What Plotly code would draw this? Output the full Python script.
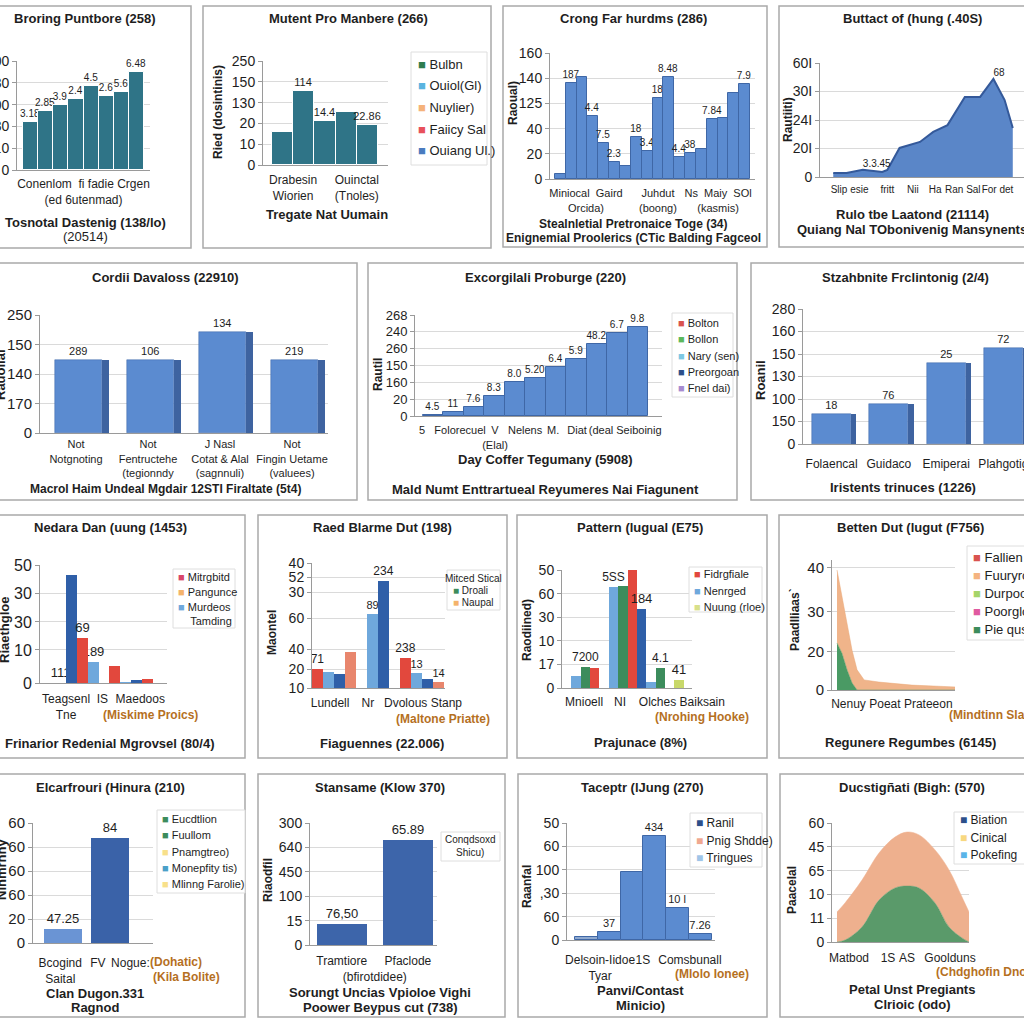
import plotly.graph_objects as go

# ======================= DATA =======================
# Panel 1
p1_values = [2.2, 2.7, 3.0, 3.26, 3.85, 3.4, 3.58, 4.5]
p1_labels = ["3.18", "2.85", "3.9", "2.4", "4.5", "2.6", "5.6", "6.48"]
p1_yticks = ["0", "110", "230", "300", "430", "500"]
p1_categories = ["Conenlom&nbsp;&nbsp;fi fadie Crgen<br>(ed 6utenmad)"]

# Panel 2
p2_values = [1.6, 3.56, 2.12, 2.55, 1.92]
p2_labels = ["", "114", "14.4", "", "22.86"]
p2_yticks = ["0", "10", "20", "130", "150", "250"]
p2_categories = ["Drabesin<br>Wiorien", "Ouinctal<br>(Tnoles)"]
p2_legend = ["Bulbn", "Ouiol(Gl)", "Nuylier)", "Faiicy Sal", "Ouiang Ul.)"]

# Panel 3
p3_values = [0.2, 3.81, 4.05, 2.5, 1.43, 0.67, 0.52, 1.67, 1.11, 3.21, 4.05,
             0.87, 1.03, 1.19, 2.38, 2.42, 3.41, 3.77]
p3_labels = ["", "187", "", "4.4", "7.5", "2.3", "", "18", "3.4", "18", "8.48",
             "4.4", "38", "", "7.84", "", "", "7.9"]
p3_yticks = ["0", "20", "40", "125", "140", "160"]
p3_categories = ["Miniocal&nbsp;&nbsp;Gaird<br>Orcida)", "Juhdut<br>(boong)",
                 "Ns&nbsp;&nbsp;Maiy&nbsp;&nbsp;SOl<br>(kasmis)"]

# Panel 4
p4_steps = [1.3, 2.6, 4.2, 6.1, 6.6, 7.8, 9.8, 11.1, 12.5, 14.2, 15.7, 17.0, 18.1, 18.9]
p4_values = [0.14, 0.14, 0.25, 0.18, 0.25, 1.02, 1.23, 1.58, 1.82, 2.81, 2.81, 3.44, 2.7, 1.72]
p4_labels = ["", "", "3.3.45", "", "", "", "", "", "", "", "", "68", "", ""]
p4_yticks = ["0", "20I", "24I", "30I", "60I"]
p4_categories = ["Slip esie", "fritt", "Nii", "Ha", "Ran Sal", "For det"]

# Panel 5
p5_values = [2.47, 2.47, 3.42, 2.47]
p5_labels = ["289", "106", "134", "219"]
p5_yticks = ["0", "170", "140", "150", "250"]
p5_categories = ["Not<br>Notgnoting", "Not<br>Fentructehe<br>(tegionndy",
                 "J Nasl<br>Cotat & Alal<br>(sagnnuli)", "Not<br>Fingin Uetame<br>(valuees)"]

# Panel 6
p6_values = [0.06, 0.26, 0.55, 1.19, 2.04, 2.24, 2.93, 3.39, 4.28, 4.95, 5.31]
p6_labels = ["4.5", "11", "7.6", "8.3", "8.0", "5.20", "6.4", "5.9", "48.2", "6.7", "9.8"]
p6_yticks = ["0", "20", "160", "150", "260", "240", "268"]
p6_categories = ["5", "Folorecuel", "V<br>(Elal)", "Nelens", "M.", "Diat", "(deal Seiboinig"]
p6_legend = ["Bolton", "Bollon", "Nary (sen)", "Preorgoan", "Fnel dai)"]

# Panel 7
p7_values = [1.33, 1.78, 3.6, 4.27]
p7_labels = ["18", "76", "25", "72"]
p7_yticks = ["0", "150", "100", "130", "150", "160", "280"]
p7_categories = ["Folaencal", "Guidaco", "Emiperai", "Plahgotig"]

# Panel 8
p8_lightblue = [0.0, 0.71, 0.03]
p8_darkblue = [3.66, 0.0, 0.1]
p8_red = [1.53, 0.58, 0.14]
p8_lightblue_labels = ["111", "189", ""]
p8_red_labels = ["69", "", ""]
p8_yticks = ["0", "10", "30", "30", "50"]
p8_categories = ["Teagsenl<br>Tne", "IS", "Maedoos"]
p8_legend = ["Mitrgbitd", "Pangunce", "Murdeos<br>&nbsp;&nbsp;&nbsp;&nbsp;Tamding"]

# Panel 9
p9_red = [1.52, 0.0, 2.4]
p9_lightblue = [1.28, 5.9, 1.2]
p9_darkblue = [1.12, 8.6, 0.72]
p9_red2 = [2.88, 0.0, 0.48]
p9_red_labels = ["71", "", "238"]
p9_lightblue_labels = ["", "89", "13"]
p9_darkblue_labels = ["", "234", ""]
p9_red2_labels = ["", "", "14"]
p9_yticks = ["10", "20", "40", "60", "30", "52", "40"]
p9_categories = ["Lundell", "Nr", "Dvolous Stanp"]
p9_legend = ["Droali", "Naupal"]

# Panel 10
p10_lightblue = [0.51, 4.3, 0.25]
p10_green = [0.89, 4.33, 0.85]
p10_red = [0.85, 5.0, 0.0]
p10_fourth = [0.0, 3.35, 0.34]
p10_lightblue_labels = ["", "5SS", ""]
p10_green_labels = ["7200", "", "4.1"]
p10_fourth_labels = ["", "184", "41"]
p10_yticks = ["0", "17", "10", "30", "60", "50"]
p10_categories = ["Mnioell", "NI", "Olches Baiksain"]
p10_legend = ["Fidrgfiale", "Nenrged", "Nuung (rloe)"]

# Panel 11
p11_steps = [0, 1.7, 3.4, 5.1, 6.8, 9.2, 14.2, 25.4, 40]
p11_green = [15.4, 12.0, 6.6, 2.3, 0.0, 0.0, 0.0, 0.0, 0.0]
p11_orange = [23.9, 18.5, 16.4, 10.7, 6.6, 3.3, 2.6, 1.6, 1.0]
p11_yticks = ["0", "20", "30", "40"]
p11_categories = ["Nenuy Poeat Prateeon"]
p11_legend = ["Fallien", "Fuuryroo", "Durpoo", "Poorglo", "Pie qusi"]

# Panel 12
p12_values = [0.58, 4.37]
p12_labels = ["47.25", "84"]
p12_yticks = ["0", "20", "60", "60", "60", "60"]
p12_categories = ["Bcogind<br>Saital", "FV", "Nogue:"]
p12_legend = ["Eucdtlion", "Fuullom", "Pnamgtreo)", "Monepfity tis)", "Mlinng Farolie)"]

# Panel 13
p13_values = [0.86, 4.3]
p13_labels = ["76,50", "65.89"]
p13_yticks = ["0", "15", "100", "450", "640", "300"]
p13_categories = ["Tramtiore", "<br>(bfirotdidee)", "Pfaclode"]

# Panel 14
p14_values = [0.13, 0.34, 2.9, 4.44, 1.37, 0.26]
p14_labels = ["", "37", "", "434", "10 l", "7.26"]
p14_yticks = ["0", "60", ",30", "100", "60", "50"]
p14_categories = ["Delsoin-Iidoe<br>Tyar", "1S", "Comsbunall"]
p14_legend = ["Ranil", "Pnig Shdde)", "Tringues"]

# Panel 15
p15_steps = [0, 0.8, 2.5, 4.2, 5.8, 7.0, 8.2, 9.8, 11.2, 12.5, 13.2]
p15_green = [0.0, 0.08, 0.63, 1.76, 2.27, 2.35, 2.27, 1.64, 0.63, 0.17, 0.0]
p15_orange = [1.26, 1.56, 1.97, 1.98, 2.14, 2.27, 2.23, 2.23, 2.4, 1.72, 1.26]
p15_yticks = ["0", "11", "10", "65", "45", "60"]
p15_categories = ["Matbod", "1S", "AS", "Goolduns"]
p15_legend = ["Biation", "Cinical", "Pokefing"]

# ======================= STYLE / HELPERS =======================
FONT = "Liberation Sans, Arial, Helvetica, sans-serif"
INK = "#1e1e1e"
GRID = "#dadada"
AXIS = "#9a9a9a"
BORDER = "#a9a9a9"
ORANGE_TXT = "#b5701f"
TEAL = "#2f7487"
BLUE = "#5b8bd0"
BLUE_EDGE = "#3f67a6"
BLUE_SIDE = "#3e63a0"
DARKBLUE = "#2f5fa8"
LIGHTBLUE = "#6fa8dc"
RED = "#e2483d"
GREEN = "#3c8c5c"

W = H = 1024


def fx(p):
    return p / W


def fy(p):
    return 1 - p / H


fig = go.Figure()
layout = {}
annotations = []
shapes = []


def axes(n, left, right, top, bottom, xr, yr, ytv, ytt, xtv, xtt, ysize=14, xsize=12, stand=4):
    s = "" if n == 1 else str(n)
    layout["xaxis" + s] = dict(
        domain=[max(0.0, fx(left)), min(1.0, fx(right))], anchor="y" + s, range=xr,
        tickmode="array", tickvals=xtv, ticktext=xtt, tickangle=0, automargin=False,
        showgrid=False, zeroline=False, showline=True, linecolor=AXIS, linewidth=1,
        ticks="", ticklabelstandoff=stand, ticklabeloverflow="allow",
        tickfont=dict(family=FONT, size=xsize, color=INK), fixedrange=True)
    layout["yaxis" + s] = dict(
        domain=[fy(bottom), fy(top)], anchor="x" + s, range=yr, automargin=False,
        tickmode="array", tickvals=ytv, ticktext=ytt, ticklabeloverflow="allow",
        showgrid=True, gridcolor=GRID, gridwidth=1, zeroline=False, showline=True,
        linecolor=AXIS, linewidth=1, ticks="outside", ticklen=4, tickcolor=AXIS,
        tickfont=dict(family=FONT, size=ysize, color=INK), fixedrange=True)
    return "x" + s, "y" + s


def note(x, y, s, size=12, bold=False, color=INK, angle=0, anchor="center", align="center"):
    annotations.append(dict(
        x=fx(x), y=fy(y), xref="paper", yref="paper", text=s, showarrow=False,
        textangle=angle, xanchor=anchor, yanchor="middle", align=align,
        font=dict(family=FONT, size=size, color=color, weight=700 if bold else 400)))


def frame(l, t, r, b):
    shapes.append(dict(type="rect", xref="paper", yref="paper", x0=fx(l), x1=fx(r),
                       y0=fy(b), y1=fy(t), line=dict(color=BORDER, width=1.5),
                       fillcolor="rgba(0,0,0,0)", layer="below"))


def legend_box(l, t, r, b, entries, colors, ys, size=12, pad=5):
    shapes.append(dict(type="rect", xref="paper", yref="paper", x0=fx(l), x1=fx(r),
                       y0=fy(b), y1=fy(t), line=dict(color="#dedede", width=1),
                       fillcolor="white", layer="above"))
    for e, c, y in zip(entries, colors, ys):
        note(l + pad, y, f'<span style="color:{c}">■</span> {e}', size=size,
             anchor="left", align="left")


def bars(xa, ya, values, color, labels=None, width=None, offset=None, textsize=10,
         edge=None, edgewidth=1):
    fig.add_trace(go.Bar(
        x=list(range(len(values))), y=values, xaxis=xa, yaxis=ya,
        marker=dict(color=color, line=dict(color=edge if edge else color,
                                           width=edgewidth if edge else 0)),
        text=labels, textposition="outside", constraintext="none", cliponaxis=False,
        textfont=dict(family=FONT, size=textsize, color=INK),
        width=width, offset=offset, showlegend=False, hoverinfo="skip"))


def steps(y0, dy, n):
    return [y0 + i * dy for i in range(n)]


# ======================= PANEL 1 =======================
frame(-5, 6, 191, 248)
note(85, 18, "Broring Puntbore (258)", 13, True)
xa, ya = axes(1, 17, 150, 61, 170, [-0.9, 7.9], [0, 5], list(range(6)), p1_yticks,
              [3.5], p1_categories, ysize=14, xsize=12, stand=3)
bars(xa, ya, p1_values, TEAL, p1_labels, textsize=10, edge="white", edgewidth=1)
note(85, 222, "Tosnotal Dastenig (138/lo)", 13, True)
note(85, 236, "(20514)", 13)

# ======================= PANEL 2 =======================
frame(203, 6, 491, 248)
note(348, 18, "Mutent Pro Manbere (266)", 13, True)
xa, ya = axes(2, 263, 388, 61, 165, [-0.92, 4.97], [0, 5], list(range(6)), p2_yticks,
              [0.5, 3.5], p2_categories, ysize=14, xsize=12, stand=4)
bars(xa, ya, p2_values, TEAL, p2_labels, textsize=11, edge="white", edgewidth=1)
note(218, 112, "Ried (dosintinis)", 12, True, angle=-90)
legend_box(411, 52, 487, 165, p2_legend, ["#2e7d4f", "#5ab4e0", "#f5b27a", "#e8505b", "#4a7bbf"],
           steps(64, 21.7, 5), size=13)
note(327, 214, "Tregate Nat Uumain", 13, True)

# ======================= PANEL 3 =======================
frame(503, 6, 767, 247)
note(633, 18, "Crong Far hurdms (286)", 13, True)
xa, ya = axes(3, 550, 755, 53, 179, [-0.96, 17.96], [0, 5], list(range(6)), p3_yticks,
              [2.36, 9.0, 14.55], p3_categories, ysize=14, xsize=11, stand=4)
bars(xa, ya, p3_values, BLUE, p3_labels, textsize=10, edge=BLUE_EDGE, edgewidth=1)
note(513, 103, "Raoual)", 12, True, angle=-90)
note(633, 224, "Stealnletial Pretronaice Toge (34)", 12, True)
note(633, 238, "Enignemial Proolerics (CTic Balding Fagceol", 12, True)

# ======================= PANEL 4 =======================
frame(779, 6, 1030, 247)
note(912, 18, "Buttact of (hung (.40S)", 13, True)
xa, ya = axes(4, 820, 1024, 63, 177, [0, 20], [0, 4], list(range(5)), p4_yticks,
              [2.9, 6.6, 9.1, 11.3, 14.0, 17.4], p4_categories, ysize=14, xsize=10, stand=3)
fig.add_trace(go.Scatter(
    x=p4_steps, y=p4_values, xaxis=xa, yaxis=ya, mode="lines+text", fill="tozeroy",
    fillcolor="#5a86c8", line=dict(color="#34599a", width=2),
    text=p4_labels, textposition="top right", cliponaxis=False,
    textfont=dict(family=FONT, size=10, color=INK), showlegend=False, hoverinfo="skip"))
note(788, 120, "Rautiiti)", 12, True, angle=-90)
note(912, 214, "Rulo tbe Laatond (21114)", 13, True)
note(912, 229, "Quiang Nal TObonivenig Mansynents", 13, True)

# ======================= PANEL 5 =======================
frame(-5, 263, 357, 500)
note(165, 277, "Cordii Davaloss (22910)", 13, True)
xa, ya = axes(5, 40, 328, 315, 433, [-0.5, 3.5], [0, 4], list(range(5)), p5_yticks,
              [0, 1, 2, 3], p5_categories, ysize=15, xsize=11, stand=1)
bars(xa, ya, p5_values, BLUE, p5_labels, width=0.65, offset=-0.29, textsize=11,
     edge=BLUE_EDGE, edgewidth=0.5)
bars(xa, ya, p5_values, BLUE_SIDE, None, width=0.1, offset=0.36)
note(0, 375, "Rauoiial", 13, True, angle=-90)
note(165, 489, "Macrol Haim Undeal Mgdair 12STI Firaltate (5t4)", 12, True)

# ======================= PANEL 6 =======================
frame(368, 263, 737, 500)
note(545, 277, "Excorgilali Proburge (220)", 13, True)
xa, ya = axes(6, 415, 662, 315, 416, [-0.89, 11.18], [0, 6], list(range(7)), p6_yticks,
              [-0.55, 1.31, 3.02, 4.49, 5.86, 7.03, 9.38], p6_categories, ysize=13, xsize=11, stand=4)
bars(xa, ya, p6_values, BLUE, p6_labels, textsize=10, edge=BLUE_EDGE, edgewidth=1)
note(378, 375, "Rautil", 12, True, angle=-90)
legend_box(672, 313, 733, 397, p6_legend, ["#d9534f", "#5cb85c", "#7ec8e3", "#2c4f8a", "#a78bd0"],
           steps(323, 16.3, 5), size=11, pad=4)
note(545, 459, "Day Coffer Tegumany (5908)", 13, True)
note(545, 489, "Mald Numt Enttrartueal Reyumeres Nai Fiagunent", 13, True)

# ======================= PANEL 7 =======================
frame(751, 263, 1030, 500)
note(905, 277, "Stzahbnite Frclintonig (2/4)", 13, True)
xa, ya = axes(7, 803, 1024, 309, 444, [-0.5, 3.36], [0, 6], list(range(7)), p7_yticks,
              [0, 1, 2, 3], p7_categories, ysize=14, xsize=12, stand=9)
bars(xa, ya, p7_values, BLUE, p7_labels, width=0.68, offset=-0.34, textsize=11,
     edge=BLUE_EDGE, edgewidth=0.5)
bars(xa, ya, p7_values, BLUE_SIDE, None, width=0.09, offset=0.34)
note(760, 380, "Roanil", 13, True, angle=-90)
note(903, 487, "Iristents trinuces (1226)", 13, True)

# ======================= PANEL 8 =======================
frame(-5, 515, 245, 758)
note(110, 527, "Nedara Dan (uung (1453)", 13, True)
xa, ya = axes(8, 40, 167, 565, 683, [-0.94, 2.91], [0, 4], [0, 1.12, 2.07, 3.05, 4], p8_yticks,
              [-0.15, 0.95, 2.1], p8_categories, ysize=16, xsize=12, stand=5)
bars(xa, ya, p8_lightblue, LIGHTBLUE, p8_lightblue_labels, textsize=13)
bars(xa, ya, p8_darkblue, DARKBLUE, None)
bars(xa, ya, p8_red, RED, p8_red_labels, textsize=13)
legend_box(173, 569, 235, 628, p8_legend, ["#d9466a", "#f4b36b", LIGHTBLUE], [577, 592, 614],
           size=11, pad=3)
note(150, 715, "(Miskime Proics)", 12, True, color=ORANGE_TXT)
note(4, 630, "Riaethgloe", 13, True, angle=-90)
note(110, 743, "Frinarior Redenial Mgrovsel (80/4)", 13, True)

# ======================= PANEL 9 =======================
frame(258, 515, 507, 758)
note(382, 527, "Raed Blarme Dut (198)", 13, True)
xa, ya = axes(9, 312, 445, 563, 688, [-0.5, 2.52], [0, 10], [0, 1.52, 3.12, 5.6, 7.68, 8.88, 10],
              p9_yticks, [-0.09, 0.77, 2.02], p9_categories, ysize=14, xsize=12, stand=4)
bars(xa, ya, p9_red, RED, p9_red_labels, textsize=12)
bars(xa, ya, p9_lightblue, LIGHTBLUE, p9_lightblue_labels, textsize=11)
bars(xa, ya, p9_darkblue, DARKBLUE, p9_darkblue_labels, textsize=12)
bars(xa, ya, p9_red2, "#e8866d", p9_red2_labels, textsize=11)
shapes.append(dict(type="rect", xref="paper", yref="paper", x0=fx(447), x1=fx(500),
                   y0=fy(610), y1=fy(570), line=dict(color="#dedede", width=1),
                   fillcolor="white", layer="above"))
note(473, 578, "Mitced Stical", 10)
for i, (e, c) in enumerate(zip(p9_legend, [GREEN, "#f4b36b"])):
    note(451, 590 + i * 12, f'<span style="color:{c}">■</span> {e}', 10, anchor="left", align="left")
note(443, 719, "(Maltone Priatte)", 12, True, color=ORANGE_TXT)
note(272, 633, "Maontel", 12, True, angle=-90)
note(382, 743, "Fiaguennes (22.006)", 13, True)

# ======================= PANEL 10 =======================
frame(517, 515, 767, 758)
note(640, 527, "Pattern (lugual (E75)", 13, True)
xa, ya = axes(10, 562, 692, 570, 688, [-0.75, 2.72], [0, 5], list(range(6)), p10_yticks,
              [-0.16, 0.8, 2.45], p10_categories, ysize=14, xsize=12, stand=3)
bars(xa, ya, p10_lightblue, LIGHTBLUE, p10_lightblue_labels, textsize=12)
bars(xa, ya, p10_green, GREEN, p10_green_labels, textsize=12)
bars(xa, ya, p10_red, RED, None)
bars(xa, ya, p10_fourth, [DARKBLUE, DARKBLUE, "#c8d86a"], p10_fourth_labels, textsize=13)
legend_box(689, 567, 762, 612, p10_legend, [RED, LIGHTBLUE, "#d8e08a"], steps(574, 16.5, 3),
           size=11, pad=3)
note(702, 717, "(Nrohing Hooke)", 12, True, color=ORANGE_TXT)
note(527, 630, "Raodiined)", 12, True, angle=-90)
note(640, 742, "Prajunace (8%)", 13, True)

# ======================= PANEL 11 =======================
frame(779, 515, 1030, 758)
note(910, 527, "Betten Dut (lugut (F756)", 13, True)
xa, ya = axes(11, 832, 955, 560, 690, [-1.7, 40], [0, 42.6], [0, 12.5, 25.6, 40], p11_yticks,
              [18.6], p11_categories, ysize=15, xsize=12, stand=3)
fig.add_trace(go.Scatter(x=p11_steps, y=p11_green, xaxis=xa, yaxis=ya, mode="lines",
                         stackgroup="p11", fillcolor="#4a9a64", line=dict(color="#4a9a64", width=0.5),
                         showlegend=False, hoverinfo="skip"))
fig.add_trace(go.Scatter(x=p11_steps, y=p11_orange, xaxis=xa, yaxis=ya, mode="lines",
                         stackgroup="p11", fillcolor="#f0b48a", line=dict(color="#e9a878", width=0.5),
                         showlegend=False, hoverinfo="skip"))
legend_box(967, 546, 1030, 640, p11_legend, ["#d9534f", "#f4b380", "#a5d46a", "#e05aa0", GREEN],
           steps(557, 18.2, 5), size=13, pad=4)
note(947, 715, "(Mindtinn Slato", 12, True, color=ORANGE_TXT, anchor="left")
note(795, 620, "Paadlliaas`", 12, True, angle=-90)
note(910, 742, "Regunere Regumbes (6145)", 13, True)

# ======================= PANEL 12 =======================
frame(-5, 774, 245, 1017)
note(110, 787, "Elcarfrouri (Hinura (210)", 13, True)
xa, ya = axes(12, 33, 153, 823, 943, [-0.64, 1.91], [0, 5], list(range(6)), p12_yticks,
              [-0.06, 0.74, 1.43], p12_categories, ysize=15, xsize=12, stand=9)
bars(xa, ya, p12_values, ["#6a94d4", "#3a62a8"], p12_labels, width=0.82, textsize=13)
legend_box(157, 810, 245, 893, p12_legend, [GREEN, GREEN, "#f8e08a", "#4aa0c8", "#f8e08a"],
           steps(819, 16.3, 5), size=11, pad=3)
note(176, 962, "(Dohatic)", 12, True, color=ORANGE_TXT)
note(186, 977, "(Kila Bolite)", 12, True, color=ORANGE_TXT)
note(1, 870, "Ninmrnny", 13, True, angle=-90)
note(95, 993, "Clan Dugon.331", 13, True)
note(95, 1007, "Ragnod", 13, True)

# ======================= PANEL 13 =======================
frame(258, 774, 505, 1017)
note(380, 787, "Stansame (Klow 370)", 13, True)
xa, ya = axes(13, 310, 437, 823, 945, [-0.48, 1.44], [0, 5], list(range(6)), p13_yticks,
              [0, 0.5, 1], p13_categories, ysize=14, xsize=12, stand=5)
bars(xa, ya, p13_values, "#3d65aa", p13_labels, width=0.76, textsize=13)
shapes.append(dict(type="rect", xref="paper", yref="paper", x0=fx(441), x1=fx(500),
                   y0=fy(861), y1=fy(832), line=dict(color="#dedede", width=1),
                   fillcolor="white", layer="above"))
note(470, 846, "Conqdsoxd<br>Shicu)", 10)
note(268, 880, "Riaodfil", 12, True, angle=-90)
note(380, 992, "Sorungt Uncias Vpioloe Vighi", 13, True)
note(380, 1007, "Poower Beypus cut (738)", 13, True)

# ======================= PANEL 14 =======================
frame(518, 774, 767, 1017)
note(642, 787, "Taceptr (lJung (270)", 13, True)
xa, ya = axes(14, 567, 715, 823, 940, [-0.85, 5.64], [0, 5], list(range(6)), p14_yticks,
              [0.6, 2.48, 4.54], p14_categories, ysize=14, xsize=12, stand=9)
bars(xa, ya, p14_values, ["#8fa9cf"] + [BLUE] * 5, p14_labels, textsize=11,
     edge=BLUE_EDGE, edgewidth=1)
legend_box(690, 813, 762, 867, p14_legend, ["#2c4f8a", "#f0a890", "#9fc5e8"], steps(823, 17.5, 3),
           size=12, pad=4)
note(712, 974, "(Mlolo Ionee)", 12, True, color=ORANGE_TXT)
note(527, 887, "Raanfal", 12, True, angle=-90)
note(640, 990, "Panvi/Contast", 13, True)
note(640, 1005, "Minicio)", 13, True)

# ======================= PANEL 15 =======================
frame(780, 774, 1030, 1017)
note(912, 787, "Ducstigñati (Bigh: (570)", 13, True)
xa, ya = axes(15, 832, 969, 823, 942, [-0.5, 13.2], [0, 5], list(range(6)), p15_yticks,
              [1.2, 5.1, 7.0, 11.3], p15_categories, ysize=14, xsize=12, stand=5)
fig.add_trace(go.Scatter(x=p15_steps, y=p15_green, xaxis=xa, yaxis=ya, mode="lines",
                         stackgroup="p15", fillcolor="#5a9a6a",
                         line=dict(color="#5a9a6a", width=0.5, shape="spline"),
                         showlegend=False, hoverinfo="skip"))
fig.add_trace(go.Scatter(x=p15_steps, y=p15_orange, xaxis=xa, yaxis=ya, mode="lines",
                         stackgroup="p15", fillcolor="#eeb08e",
                         line=dict(color="#eeb08e", width=0.5, shape="spline"),
                         showlegend=False, hoverinfo="skip"))
legend_box(954, 812, 1030, 864, p15_legend, ["#2c4f8a", "#f8d880", "#5ab4e8"], steps(820, 17.5, 3),
           size=12, pad=4)
note(934, 972, "(Chdghofin Dnone", 12, True, color=ORANGE_TXT, anchor="left")
note(792, 890, "Paacelal", 12, True, angle=-90)
note(912, 989, "Petal Unst Pregiants", 13, True)
note(912, 1004, "Clrioic (odo)", 13, True)

# ======================= LAYOUT =======================
fig.update_layout(
    width=W, height=H, margin=dict(l=0, r=0, t=0, b=0, autoexpand=False),
    paper_bgcolor="white", plot_bgcolor="white", showlegend=False,
    barmode="group", bargap=0, bargroupgap=0,
    font=dict(family=FONT, color=INK),
    annotations=annotations, shapes=shapes, **layout)

fig.write_html("out.html", config={"displayModeBar": False},
               post_script="document.body.style.margin='0';")
